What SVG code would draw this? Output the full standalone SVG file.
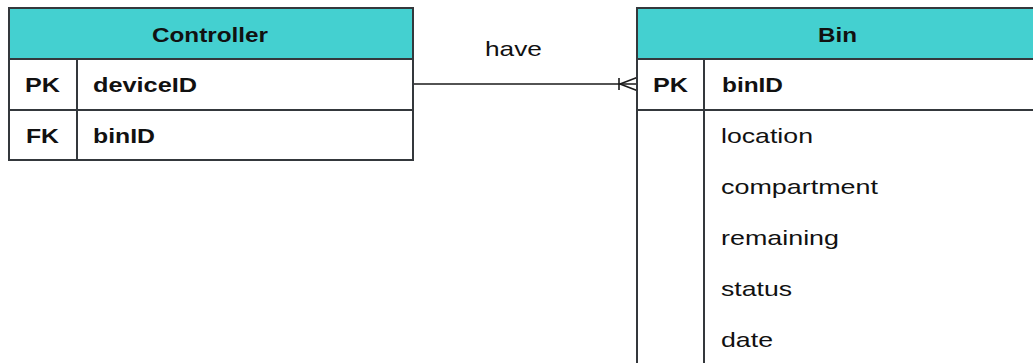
<svg xmlns="http://www.w3.org/2000/svg" width="1033" height="363" viewBox="0 0 1033 363">
  <style>
    .frame { fill: #ffffff; stroke: #34383c; stroke-width: 2; }
    .head { fill: #44d0d0; stroke: #34383c; stroke-width: 2; }
    .rule { stroke: #34383c; stroke-width: 2; fill: none; }
    .link { stroke: #1a1a1a; stroke-width: 1.6; fill: none; }
    text { font-family: "Liberation Sans", Arial, sans-serif; font-size: 21px; fill: #111111; }
    .b { font-weight: bold; }
  </style>

  <rect width="1033" height="363" fill="#ffffff"/>

  <!-- relationship: Controller (one) to Bin (many) -->
  <g id="connectors">
    <line class="link" x1="413" y1="84" x2="637" y2="84"/>
    <line class="link" x1="619" y1="78" x2="619" y2="90"/>
    <polyline class="link" points="637,77.5 620,84 637,90.5"/>
    <text x="513.5" y="56" text-anchor="middle" textLength="57" lengthAdjust="spacingAndGlyphs">have</text>
  </g>

  <!-- Controller entity -->
  <g id="controller">
    <rect class="frame" x="9" y="8" width="404" height="152"/>
    <rect class="head" x="9" y="8" width="404" height="51"/>
    <line class="rule" x1="9" y1="110" x2="413" y2="110"/>
    <line class="rule" x1="77" y1="59" x2="77" y2="160"/>
    <text class="b" x="210" y="42" text-anchor="middle" textLength="116" lengthAdjust="spacingAndGlyphs">Controller</text>
    <text class="b" x="25" y="92" textLength="35" lengthAdjust="spacingAndGlyphs">PK</text>
    <text class="b" x="93" y="92" textLength="104" lengthAdjust="spacingAndGlyphs">deviceID</text>
    <text class="b" x="26" y="143" textLength="33" lengthAdjust="spacingAndGlyphs">FK</text>
    <text class="b" x="93" y="143" textLength="62" lengthAdjust="spacingAndGlyphs">binID</text>
  </g>

  <!-- Bin entity (extends past the right and bottom edges) -->
  <g id="bin">
    <rect class="frame" x="637" y="8" width="420" height="380"/>
    <rect class="head" x="637" y="8" width="420" height="51"/>
    <line class="rule" x1="637" y1="110" x2="1040" y2="110"/>
    <line class="rule" x1="704" y1="59" x2="704" y2="370"/>
    <text class="b" x="837.5" y="42" text-anchor="middle" textLength="39" lengthAdjust="spacingAndGlyphs">Bin</text>
    <text class="b" x="653" y="92" textLength="35" lengthAdjust="spacingAndGlyphs">PK</text>
    <text class="b" x="722" y="92" textLength="61" lengthAdjust="spacingAndGlyphs">binID</text>
    <text x="721" y="143" textLength="92" lengthAdjust="spacingAndGlyphs">location</text>
    <text x="721" y="194" textLength="157" lengthAdjust="spacingAndGlyphs">compartment</text>
    <text x="721" y="245" textLength="118" lengthAdjust="spacingAndGlyphs">remaining</text>
    <text x="721" y="296" textLength="71" lengthAdjust="spacingAndGlyphs">status</text>
    <text x="721" y="347" textLength="52" lengthAdjust="spacingAndGlyphs">date</text>
  </g>
</svg>
